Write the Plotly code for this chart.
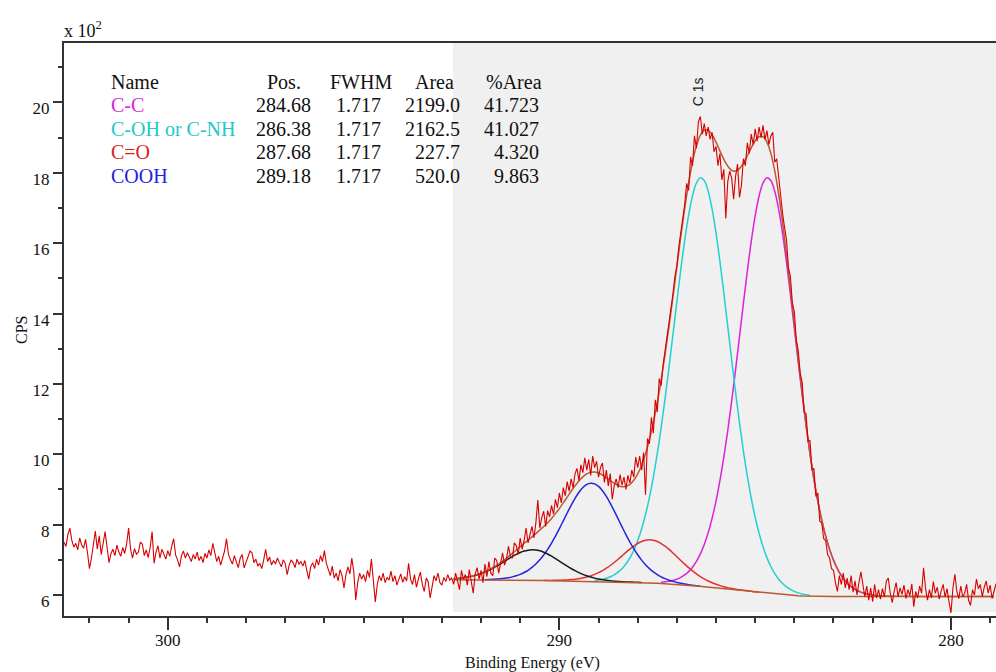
import numpy as np
import plotly.graph_objects as go

# ---------------- data ----------------
names = ["C-C", "C-OH or C-NH", "C=O", "COOH"]
positions = [284.68, 286.38, 287.68, 289.18]
fwhms = [1.717, 1.717, 1.717, 1.717]
areas = [2199.0, 2162.5, 227.7, 520.0]
pct_areas = [41.723, 41.027, 4.320, 9.863]

# unlisted fifth component (black curve)
extra_position = 290.68
extra_fwhm = 1.717
extra_area = 161.7

energy_step = 0.05
# raw spectrum (CPS / 100), segments with their first binding energy
raw_a_start = 302.65
raw_a = [
    7.50, 7.38, 7.72, 7.90, 7.55, 7.36, 7.47, 7.28, 7.62, 7.43,
    7.33, 7.58, 7.20, 6.75, 7.05, 7.40, 7.82, 7.30, 7.68, 7.15,
    7.52, 7.80, 7.35, 6.92, 7.18, 7.30, 7.12, 7.42, 7.22, 7.10,
    7.35, 7.18, 7.46, 7.90, 7.30, 7.05, 7.32, 7.16, 7.22, 7.50,
    7.45, 7.12, 7.28, 7.06, 7.35, 7.80, 6.90, 7.22, 7.40, 7.05,
    7.30, 7.18, 7.02, 7.26, 7.10, 7.38, 7.60, 7.14, 7.00, 6.80,
    7.12, 7.25, 7.05, 7.20, 7.08, 6.95, 7.15, 7.02, 7.22, 6.98,
    7.10, 6.92, 7.18, 7.05, 7.28, 7.12, 7.47, 7.20, 6.95, 7.10,
    6.85, 7.05, 7.25, 7.60, 7.15, 7.00, 6.88, 7.12, 6.95, 6.78,
    7.05, 7.15, 6.77, 6.95, 7.08, 7.25, 7.20, 6.92, 7.02, 6.82,
    6.90, 6.75, 7.00, 7.30, 6.95, 7.08, 6.85, 6.98, 6.88, 7.05,
    6.92, 6.80, 7.00, 6.90, 6.58, 6.85, 7.00, 6.92, 6.78, 7.02,
    6.88, 6.95, 6.82, 6.98, 6.70, 6.45, 6.80, 6.92, 6.75, 7.02,
    6.85, 7.12, 6.95, 7.26, 6.90, 6.70, 6.55, 6.82, 6.48, 6.62,
    6.40, 6.72, 6.55, 6.20, 6.58, 6.80, 6.60, 7.05, 6.65, 5.86,
    6.35, 6.62, 6.45, 6.58, 6.38, 6.70, 6.50, 7.02, 6.42, 5.80,
    6.30, 6.55, 6.40, 6.62, 6.35, 6.50, 6.42, 6.68, 6.38, 6.55,
    6.28, 6.48, 6.60, 6.36, 6.52, 6.40, 6.90, 6.45, 6.30, 6.58,
    6.22, 6.45, 6.65, 6.30, 6.10, 6.48, 6.38, 5.92, 6.30, 6.55,
    6.40, 6.62, 6.35, 6.28, 6.50, 6.38, 6.58, 6.42, 6.48,
]
raw_b_start = 292.70
raw_b = [
    6.30, 6.62, 6.38, 6.15, 6.70, 6.45, 6.58, 6.28, 6.72, 6.40,
    6.05, 6.60, 6.78, 6.45, 6.70, 6.35, 6.88, 6.52, 6.95, 6.62,
    6.55, 7.05, 6.98, 6.62, 6.90, 7.20, 6.85, 7.02, 7.38, 7.10,
    7.05, 7.48, 7.40, 7.15, 7.62, 7.30, 7.55, 7.90, 7.48, 7.70,
    7.95, 7.62, 8.05, 8.70, 7.90, 8.20, 8.38, 7.95, 8.40, 8.22,
    8.55, 8.30, 8.72, 8.48, 8.90, 8.62, 9.05, 8.82, 9.22, 8.95,
    9.30, 9.05, 9.45, 9.60, 9.25, 9.70, 9.48, 9.90, 9.55, 9.85,
    9.40, 9.95, 9.62, 9.80, 9.35, 9.62, 9.75, 9.20, 9.55, 9.10,
    9.45, 8.72, 9.10, 9.30, 9.05, 9.42, 9.12, 9.35, 9.00, 9.40,
    9.18, 9.55, 9.35, 9.92, 9.62, 9.95, 9.55, 10.05, 8.85, 10.45,
]
raw_c_start = 287.70
raw_c = [
    10.30, 11.05, 10.60, 11.55, 11.20, 12.15, 11.95, 12.55, 12.95, 13.40,
    13.65, 14.10, 14.55, 15.05, 15.35, 15.90, 16.30, 16.75, 17.10, 17.70,
    17.50, 18.45, 18.20, 19.05, 18.70, 19.45, 19.60, 19.10, 19.40, 19.05,
    19.30, 18.95, 19.15, 18.60, 18.75, 18.20, 18.55, 17.80, 18.10, 16.70,
    17.75, 18.05, 17.85, 17.25, 17.90, 18.25, 17.30, 17.65, 18.40, 18.20,
    18.85, 18.55, 19.10, 18.80, 19.25, 18.90, 19.30, 19.00, 19.35, 18.95,
    19.20, 18.80, 19.05, 19.15, 18.30, 18.40, 17.85, 17.45, 16.85, 16.45,
    16.10, 15.30, 15.05, 14.30, 14.05, 13.25, 12.95, 12.30, 12.05, 11.20,
    11.15, 10.35, 10.40, 9.55, 9.60, 8.80, 8.90, 8.10, 8.05, 7.60,
]
raw_d_start = 283.20
raw_d = [
    7.55, 7.15, 7.05, 6.75, 6.70, 6.35, 6.10, 6.55, 6.30, 6.62,
    6.20, 6.48, 6.15, 6.55, 6.08, 6.40, 6.00, 6.35, 6.66, 6.30,
    5.95, 6.25, 5.85, 6.20, 5.81, 6.30, 5.92, 6.15, 5.88, 6.18,
    5.95, 6.40, 6.48, 6.05, 5.78, 6.10, 6.35, 5.95, 6.20, 6.02,
    6.28, 5.90, 6.15, 5.98, 6.32, 5.67, 6.10, 5.92, 6.25, 6.05,
    6.77, 6.20, 5.85, 6.15, 5.92, 6.38, 6.05, 6.22, 5.88, 6.12,
    6.30, 5.95, 6.18, 5.80, 5.49, 6.20, 6.59, 6.10, 5.90, 6.25,
    5.95, 6.05, 6.30, 5.85, 5.70, 6.15, 6.00, 6.45, 6.18, 6.30,
    5.95, 6.22, 6.40, 6.05, 6.28, 5.90, 6.15, 6.32,
]

# Shirley background (CPS / 100) over the fitting window, 0.1 eV steps
bg_start = 292.70
bg_step = 0.1
background = [
    6.430, 6.430, 6.430, 6.430, 6.429, 6.429, 6.429, 6.428, 6.428, 6.428,
    6.427, 6.427, 6.426, 6.425, 6.424, 6.423, 6.422, 6.421, 6.420, 6.418,
    6.417, 6.415, 6.414, 6.412, 6.410, 6.408, 6.406, 6.404, 6.402, 6.399,
    6.397, 6.394, 6.392, 6.389, 6.387, 6.384, 6.382, 6.379, 6.377, 6.374,
    6.372, 6.370, 6.368, 6.366, 6.364, 6.362, 6.360, 6.357, 6.354, 6.350,
    6.346, 6.341, 6.336, 6.330, 6.324, 6.317, 6.310, 6.302, 6.294, 6.285,
    6.275, 6.265, 6.254, 6.243, 6.232, 6.220, 6.209, 6.197, 6.186, 6.175,
    6.164, 6.153, 6.142, 6.131, 6.120, 6.109, 6.097, 6.085, 6.073, 6.061,
    6.050, 6.039, 6.028, 6.018, 6.008, 5.999, 5.991, 5.984, 5.978, 5.973,
    5.969, 5.966, 5.964, 5.963, 5.962, 5.961, 5.960, 5.960, 5.960, 5.960,
    5.960, 5.960, 5.960, 5.960, 5.960, 5.960, 5.960, 5.960, 5.960, 5.960,
    5.960, 5.960, 5.960, 5.960, 5.960, 5.960, 5.960, 5.960, 5.960, 5.960,
    5.960, 5.960, 5.960, 5.960, 5.960, 5.960, 5.960, 5.960, 5.960, 5.960,
    5.960, 5.960, 5.960, 5.960, 5.960, 5.960, 5.960, 5.960, 5.960,
]

window_low_edge = 292.72      # left edge of the shaded fitting window
x_range = [302.65, 278.85]
y_range = [5.403, 21.69]

# ---------------- styles ----------------
comp_colors = ["#E020E0", "#22D0D0", "#E03030", "#2323E0"]
name_colors = ["#DD22DD", "#22C8C8", "#DD2222", "#2222DD"]
extra_color = "#1A1A1A"
raw_color = "#D80000"
env_color = "#B85A32"
SERIF = "Liberation Serif"
W, H = 996, 672
ML, MR, MT, MB = 64, 0, 43, 56
PW, PH = W - ML - MR, H - MT - MB


def px_x(px):
    return (px - ML) / PW


def px_y(py):
    return (H - MB - py) / PH


GL_MIX = 0.3


def gl_shape(d, fwhm, mix=GL_MIX):
    lo, hi = 0.3, 2.0
    for _ in range(60):
        mid = 0.5 * (lo + hi)
        val = np.exp(-np.log(2) * (1 - mix) * mid) / (1 + mix * mid)
        if val > 0.5:
            lo = mid
        else:
            hi = mid
    fp = fwhm / np.sqrt(0.5 * (lo + hi))
    u = 4.0 * d ** 2 / fp ** 2
    return np.exp(-np.log(2) * (1 - mix) * u) / (1 + mix * u)


def height_from_area(area, fwhm):
    dd = np.linspace(-20, 20, 40001)
    integ = np.trapezoid(gl_shape(dd, fwhm), dd)
    return area / integ / 100.0


def seg_energy(start, vals):
    return start - energy_step * np.arange(len(vals))


raw_e = np.concatenate([seg_energy(raw_a_start, raw_a), seg_energy(raw_b_start, raw_b),
                        seg_energy(raw_c_start, raw_c), seg_energy(raw_d_start, raw_d)])
raw_y = np.concatenate([raw_a, raw_b, raw_c, raw_d])

bg = np.array(background)
e_model = bg_start - bg_step * np.arange(len(bg))

comps = []
for p, w, a, c in zip(positions, fwhms, areas, comp_colors):
    comps.append((p, w, a, c))
comps.append((extra_position, extra_fwhm, extra_area, extra_color))

fig = go.Figure()
env = bg.copy()
for p, w, a, c in comps:
    h = height_from_area(a, w)
    peak = h * gl_shape(e_model - p, w)
    env = env + peak
    m = np.abs(e_model - p) <= 2.8
    fig.add_trace(go.Scatter(x=e_model[m], y=(bg + peak)[m], mode="lines",
                             line=dict(color=c, width=1.5, shape="spline"),
                             hoverinfo="skip"))

fig.add_trace(go.Scatter(x=e_model, y=bg, mode="lines",
                         line=dict(color=env_color, width=1.5), hoverinfo="skip"))
fig.add_trace(go.Scatter(x=e_model, y=env, mode="lines",
                         line=dict(color=env_color, width=1.5, shape="spline"),
                         hoverinfo="skip"))
fig.add_trace(go.Scatter(x=raw_e, y=raw_y, mode="lines",
                         line=dict(color=raw_color, width=1.1), hoverinfo="skip"))

# shaded fitting window and white table strip
fig.add_shape(type="rect", xref="x", yref="y", x0=window_low_edge, x1=x_range[1],
              y0=5.517, y1=y_range[1], fillcolor="#F0F0F0", line=dict(width=0),
              layer="below")
fig.add_shape(type="rect", xref="x", yref="paper", x0=window_low_edge, x1=290.29,
              y0=px_y(211), y1=px_y(189), fillcolor="white", line=dict(width=0),
              layer="below")

ann = []
fnt = dict(family=SERIF, size=20, color="#111111")
row_y = [81.7 + 23.45 * i for i in range(5)]
ann.append(dict(text="Name", x=px_x(109), y=px_y(row_y[0]), xanchor="left"))
ann.append(dict(text="Pos.", x=px_x(283.5), y=px_y(row_y[0]), xanchor="center"))
ann.append(dict(text="FWHM", x=px_x(360.5), y=px_y(row_y[0]), xanchor="center"))
ann.append(dict(text="Area", x=px_x(434), y=px_y(row_y[0]), xanchor="center"))
ann.append(dict(text="%Area", x=px_x(513.5), y=px_y(row_y[0]), xanchor="center"))
for i, (nm, p, w, a, pa) in enumerate(zip(names, positions, fwhms, areas, pct_areas)):
    yy = px_y(row_y[i + 1])
    ann.append(dict(text=nm, x=px_x(109), y=yy, xanchor="left",
                    font=dict(family=SERIF, size=20, color=name_colors[i])))
    ann.append(dict(text=f"{p:.2f}", x=px_x(313), y=yy, xanchor="right"))
    ann.append(dict(text=f"{w:.3f}", x=px_x(382.5), y=yy, xanchor="right"))
    ann.append(dict(text=f"{a:.1f}", x=px_x(462), y=yy, xanchor="right"))
    ann.append(dict(text=f"{pa:.3f}", x=px_x(541), y=yy, xanchor="right"))
for a_ in ann:
    a_.setdefault("font", fnt)
    a_.update(xref="paper", yref="paper", yanchor="middle", showarrow=False)

ann.append(dict(text="C 1s", x=286.45, y=20.3, xref="x", yref="y", textangle=-90,
                xanchor="center", yanchor="middle", showarrow=False,
                font=dict(family="Liberation Sans", size=14, color="#222222")))
ann.append(dict(text="x 10<sup>2</sup>", x=px_x(62), y=px_y(43), xref="paper", yref="paper",
                xanchor="left", yanchor="bottom", showarrow=False,
                font=dict(family=SERIF, size=18, color="#111111")))
ann.append(dict(text="CPS", x=px_x(21), y=px_y(330), xref="paper", yref="paper",
                textangle=-90, xanchor="center", yanchor="middle", showarrow=False,
                font=dict(family=SERIF, size=16, color="#111111")))
ann.append(dict(text="Binding Energy (eV)", x=px_x(532), y=px_y(663), xref="paper",
                yref="paper", xanchor="center", yanchor="middle", showarrow=False,
                font=dict(family=SERIF, size=16, color="#111111")))

axis_col = "#333333"
fig.update_layout(
    width=W, height=H, margin=dict(l=ML, r=MR, t=MT, b=MB, autoexpand=False),
    paper_bgcolor="white", plot_bgcolor="white", showlegend=False,
    annotations=ann,
    xaxis=dict(range=x_range, tickmode="linear", tick0=0, dtick=10, automargin=False,
               ticks="outside", ticklen=12, tickwidth=1.5, tickcolor=axis_col,
               showline=True, linewidth=2, linecolor=axis_col, mirror=True,
               showgrid=False, zeroline=False, ticklabelstandoff=-4,
               tickfont=dict(family=SERIF, size=17, color="#111111"),
               minor=dict(tickmode="linear", tick0=0, dtick=1, ticks="outside",
                          ticklen=5, tickwidth=1.5, tickcolor=axis_col, showgrid=False)),
    yaxis=dict(range=y_range, tickmode="linear", tick0=0, dtick=2, automargin=False,
               ticks="outside", ticklen=9, tickwidth=1.5, tickcolor=axis_col,
               showline=True, linewidth=2, linecolor=axis_col, mirror=False,
               showgrid=False, zeroline=False, ticklabelshift=6, ticklabelstandoff=0,
               tickfont=dict(family=SERIF, size=17, color="#111111"),
               minor=dict(tickmode="linear", tick0=0, dtick=1, ticks="outside",
                          ticklen=4, tickwidth=1.5, tickcolor=axis_col, showgrid=False)),
)

fig.write_html("out.html", config={"displayModeBar": False},
               post_script="document.body.style.margin='0';"
                           "document.body.style.overflow='hidden';")
